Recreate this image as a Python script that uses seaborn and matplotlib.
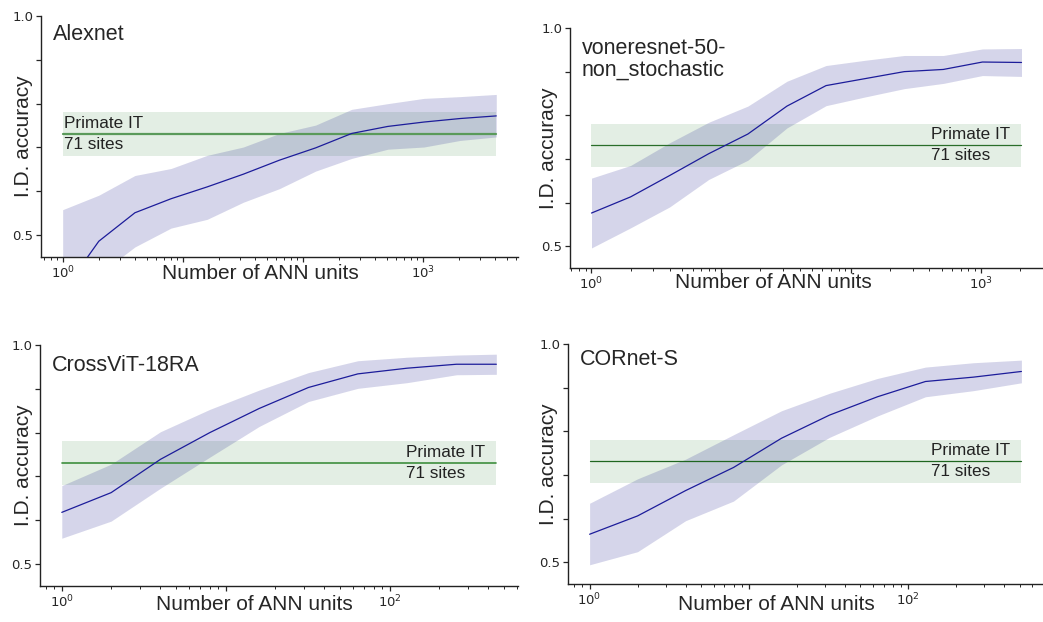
import numpy as np
import pandas as pd
import seaborn as sns
import matplotlib
matplotlib.use("Agg")
import matplotlib.pyplot as plt
from matplotlib.ticker import NullFormatter

sns.set_style("ticks")
plt.rcParams['font.family'] = ['Liberation Sans', 'DejaVu Sans']

# --- data (I.D. accuracy vs number of ANN units) ---
alexnet_units = [1, 2, 4, 8, 16, 32, 64, 128, 256, 512, 1024, 2048, 4096]
alexnet_mean = [0.37, 0.486, 0.551, 0.583, 0.610, 0.639, 0.671, 0.699, 0.732, 0.748, 0.758, 0.766, 0.772]
alexnet_low = [0.29, 0.41, 0.473, 0.516, 0.536, 0.575, 0.606, 0.646, 0.675, 0.696, 0.701, 0.716, 0.724]
alexnet_high = [0.558, 0.591, 0.636, 0.652, 0.682, 0.701, 0.732, 0.751, 0.787, 0.800, 0.812, 0.816, 0.821]

vone_units = [1, 2, 4, 8, 16, 32, 64, 128, 256, 512, 1024, 2048]
vone_mean = [0.576, 0.613, 0.662, 0.712, 0.757, 0.821, 0.868, 0.884, 0.900, 0.905, 0.922, 0.921]
vone_low = [0.496, 0.542, 0.590, 0.653, 0.697, 0.771, 0.822, 0.842, 0.861, 0.873, 0.891, 0.889]
vone_high = [0.656, 0.685, 0.737, 0.784, 0.821, 0.878, 0.914, 0.926, 0.937, 0.937, 0.952, 0.953]

crossvit_units = [1, 2, 4, 8, 16, 32, 64, 128, 256, 448]
crossvit_mean = [0.618, 0.663, 0.739, 0.800, 0.855, 0.903, 0.934, 0.947, 0.956, 0.956]
crossvit_low = [0.559, 0.598, 0.673, 0.744, 0.814, 0.871, 0.901, 0.914, 0.932, 0.933]
crossvit_high = [0.679, 0.728, 0.802, 0.853, 0.897, 0.937, 0.964, 0.972, 0.977, 0.979]

cornet_units = [1, 2, 4, 8, 16, 32, 64, 128, 256, 512]
cornet_mean = [0.564, 0.606, 0.664, 0.717, 0.784, 0.837, 0.879, 0.914, 0.924, 0.937]
cornet_low = [0.494, 0.524, 0.595, 0.640, 0.723, 0.786, 0.835, 0.879, 0.893, 0.911]
cornet_high = [0.635, 0.691, 0.736, 0.792, 0.847, 0.887, 0.921, 0.947, 0.957, 0.963]

primate_it = 0.731
primate_it_low = 0.681
primate_it_high = 0.781

model_names = ["Alexnet", "voneresnet-50-\nnon_stochastic", "CrossViT-18RA", "CORnet-S"]

panels = [
    dict(name=model_names[0], x=alexnet_units, m=alexnet_mean, lo=alexnet_low, hi=alexnet_high,
         pos=[0.0393, 0.5868, 0.4573, 0.3875], xt=[1, 10, 100, 1000], xl=['$10^{0}$', '', '', '$10^{3}$'],
         it_col='#5a9a5a', it_lw=1.6, txt_left=True, ylab_x=-0.017, xlab=(0.46, -0.03), title_y=0.965),
    dict(name=model_names[1], x=vone_units, m=vone_mean, lo=vone_low, hi=vone_high,
         pos=[0.5465, 0.5691, 0.4535, 0.3859], xt=[1, 10, 100, 1000], xl=['$10^{0}$', '', '', '$10^{3}$'],
         it_col='#2a6e2a', it_lw=0.9, txt_left=False, ylab_x=-0.025, xlab=(0.43, -0.02), title_y=0.96),
    dict(name=model_names[2], x=crossvit_units, m=crossvit_mean, lo=crossvit_low, hi=crossvit_high,
         pos=[0.0384, 0.0579, 0.4583, 0.3875], xt=[1, 10, 100], xl=['$10^{0}$', '', '$10^{2}$'],
         it_col='#3e8e3e', it_lw=1.2, txt_left=False, ylab_x=-0.015, xlab=(0.448, -0.037), title_y=0.96),
    dict(name=model_names[3], x=cornet_units, m=cornet_mean, lo=cornet_low, hi=cornet_high,
         pos=[0.5446, 0.0611, 0.4554, 0.3859], xt=[1, 10, 100], xl=['$10^{0}$', '', '$10^{2}$'],
         it_col='#1f661f', it_lw=0.9, txt_left=False, ylab_x=-0.021, xlab=(0.438, -0.046), title_y=0.98),
]

fig = plt.figure(figsize=(10.43, 6.22), dpi=100)

for p in panels:
    ax = fig.add_axes(p['pos'])
    df = pd.DataFrame({'units': p['x'], 'acc': p['m'], 'lo': p['lo'], 'hi': p['hi']})
    x0, x1 = df['units'].iloc[0], df['units'].iloc[-1]

    # primate IT band + line
    ax.fill_between([x0, x1], primate_it_low, primate_it_high, color='#2e7d32', alpha=0.13, lw=0)
    ax.plot([x0, x1], [primate_it, primate_it], color=p['it_col'], lw=p['it_lw'])

    # model curve with band
    ax.fill_between(df['units'], df['lo'], df['hi'], color='#1a1a8c', alpha=0.18, lw=0)
    sns.lineplot(data=df, x='units', y='acc', ax=ax, color='#1c1c9a', lw=0.9)

    ax.set_xscale('log')
    ax.set_ylim(0.45, 1.0)
    ax.set_yticks([0.5, 0.6, 0.7, 0.8, 0.9, 1.0])
    ax.set_yticklabels(['0.5', '', '', '', '', '1.0'], family='DejaVu Sans', fontsize=9.5)
    ax.set_xticks(p['xt'])
    ax.set_xticklabels(p['xl'], family='DejaVu Sans', fontsize=9.5)
    ax.xaxis.set_minor_formatter(NullFormatter())
    ax.tick_params(axis='both', which='major', length=3.5, width=0.9, pad=2)
    ax.tick_params(axis='x', which='minor', length=2, width=0.7)
    sns.despine(ax=ax)
    for s in ['left', 'bottom']:
        ax.spines[s].set_linewidth(1.0)
        ax.spines[s].set_color('#222222')

    ax.set_xlabel('Number of ANN units', fontsize=15)
    ax.xaxis.set_label_coords(*p['xlab'])
    ax.xaxis.label.set_va('top')
    ax.set_ylabel('I.D. accuracy', fontsize=15)
    ax.yaxis.set_label_coords(p['ylab_x'], 0.5)

    ax.text(0.025, p['title_y'], p['name'], transform=ax.transAxes, fontsize=15.5,
            ha='left', va='top', linespacing=1.05)

    if p['txt_left']:
        ax.annotate('Primate IT\n71 sites', xy=(x0, primate_it), xytext=(1, 0), textcoords='offset points',
                    fontsize=12.3, ha='left', va='center', linespacing=1.5, color='#222222')
    else:
        ax.annotate('Primate IT\n71 sites', xy=(x1, primate_it), xytext=(-8, 0), textcoords='offset points',
                    fontsize=12.3, ha='right', va='center', multialignment='left',
                    linespacing=1.5, color='#222222')

plt.savefig('out.png', dpi=100)
